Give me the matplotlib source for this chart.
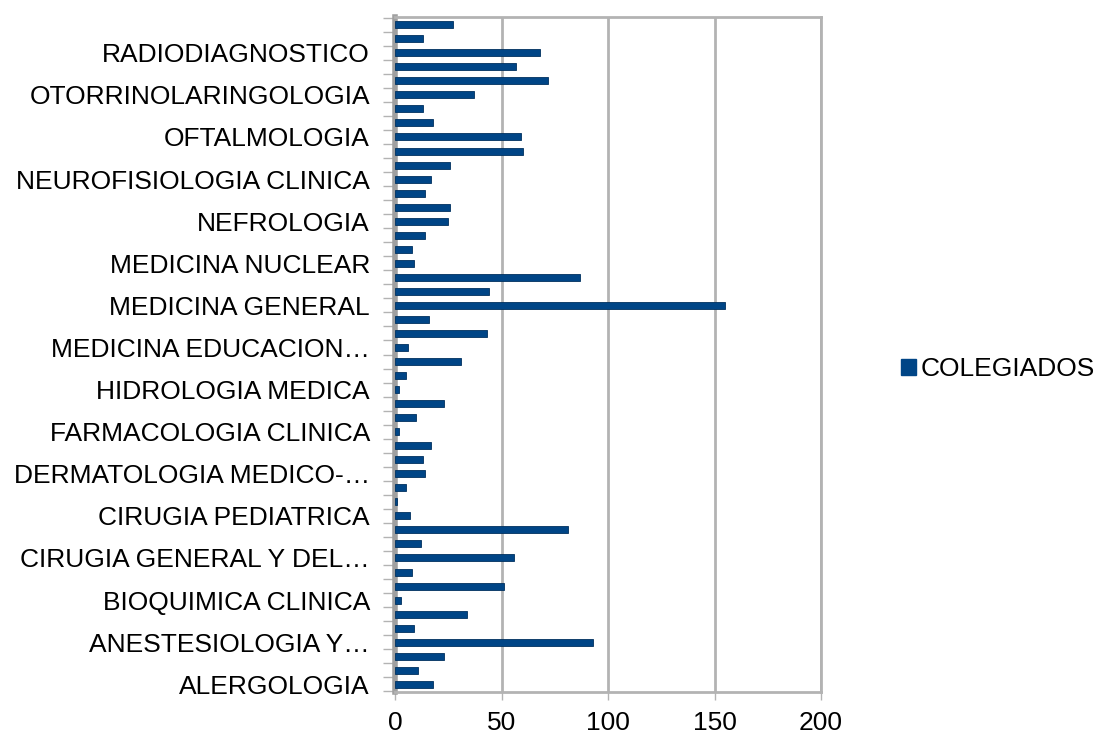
import numpy as np
import matplotlib as mpl
mpl.use('Agg')
import matplotlib.pyplot as plt
from matplotlib.patches import Patch

plt.rcParams['font.family'] = ['Liberation Sans', 'DejaVu Sans']

# especialidades, de abajo (indice 0) hacia arriba
especialidades = [
    'ALERGOLOGIA', 'ANALISIS CLINICOS', 'ANATOMIA PATOLOGICA',
    'ANESTESIOLOGIA Y REANIMACION', 'ANGIOLOGIA Y CIRUGIA VASCULAR', 'APARATO DIGESTIVO',
    'BIOQUIMICA CLINICA', 'CARDIOLOGIA', 'CIRUGIA CARDIOVASCULAR',
    'CIRUGIA GENERAL Y DEL APARATO DIGESTIVO', 'CIRUGIA ORAL Y MAXILOFACIAL',
    'CIRUGIA ORTOPEDICA Y TRAUMATOLOGIA', 'CIRUGIA PEDIATRICA', 'CIRUGIA PLASTICA',
    'CIRUGIA TORACICA', 'DERMATOLOGIA MEDICO-QUIRURGICA', 'ENDOCRINOLOGIA Y NUTRICION',
    'ESTOMATOLOGIA', 'FARMACOLOGIA CLINICA', 'GERIATRIA', 'HEMATOLOGIA Y HEMOTERAPIA',
    'HIDROLOGIA MEDICA', 'INMUNOLOGIA', 'MEDICINA DEL TRABAJO',
    'MEDICINA EDUCACION FISICA Y DEPORTE', 'MEDICINA FAMILIAR Y COMUNITARIA',
    'MEDICINA FISICA Y REHABILITACION', 'MEDICINA GENERAL', 'MEDICINA INTENSIVA',
    'MEDICINA INTERNA', 'MEDICINA NUCLEAR', 'MEDICINA PREVENTIVA Y SALUD PUBLICA',
    'MICROBIOLOGIA Y PARASITOLOGIA', 'NEFROLOGIA', 'NEUMOLOGIA', 'NEUROCIRUGIA',
    'NEUROFISIOLOGIA CLINICA', 'NEUROLOGIA', 'OBSTETRICIA Y GINECOLOGIA', 'OFTALMOLOGIA',
    'ONCOLOGIA MEDICA', 'ONCOLOGIA RADIOTERAPICA', 'OTORRINOLARINGOLOGIA', 'PEDIATRIA',
    'PSIQUIATRIA', 'RADIODIAGNOSTICO', 'REUMATOLOGIA', 'UROLOGIA',
]
colegiados = [
    18, 11, 23, 93, 9, 34, 3, 51, 8, 56, 12, 81, 7, 1, 5, 14, 13, 17, 2, 10, 23, 2, 5, 31,
    6, 43, 16, 155, 44, 87, 9, 8, 14, 25, 26, 14, 17, 26, 60, 59, 18, 13, 37, 72, 57, 68, 13, 27,
]
# etiquetas visibles (una de cada tres), recortadas como en el original
etiquetas = [
    'ALERGOLOGIA', 'ANESTESIOLOGIA Y…', 'BIOQUIMICA CLINICA', 'CIRUGIA GENERAL Y DEL…',
    'CIRUGIA PEDIATRICA', 'DERMATOLOGIA MEDICO-…', 'FARMACOLOGIA CLINICA',
    'HIDROLOGIA MEDICA', 'MEDICINA EDUCACION…', 'MEDICINA GENERAL', 'MEDICINA NUCLEAR',
    'NEFROLOGIA', 'NEUROFISIOLOGIA CLINICA', 'OFTALMOLOGIA', 'OTORRINOLARINGOLOGIA',
    'RADIODIAGNOSTICO',
]
xticks = [0, 50, 100, 150, 200]

azul = '#004586'
gris = '#b3b3b3'

fig = plt.figure(figsize=(10.99, 7.40), dpi=100)
ax = fig.add_axes([395 / 1099, 1 - 692 / 740, (821 - 395) / 1099, (692 - 17) / 740])

y = np.arange(len(especialidades))
ax.barh(y, colegiados, height=0.5, color=azul, edgecolor='#00305e', linewidth=0.6, zorder=3)

ax.set_xlim(0, 200)
ax.set_ylim(-0.55, len(especialidades) - 0.45)
ax.set_xticks(xticks)
ax.set_xticklabels([str(v) for v in xticks], fontsize=19)
ax.xaxis.grid(True, color=gris, linewidth=2, zorder=0)

ax.set_yticks(y[::3])
ax.set_yticklabels(etiquetas, fontsize=19)
ax.set_yticks(np.arange(len(especialidades) + 1) - 0.5, minor=True)
ax.tick_params(axis='y', which='major', length=0, pad=18)
ax.tick_params(axis='y', which='minor', length=9, color=gris, width=1)
ax.tick_params(axis='x', length=6, color=gris, width=1, pad=8)

for s in ['top', 'right', 'bottom']:
    ax.spines[s].set_color(gris)
    ax.spines[s].set_linewidth(2)
ax.spines['left'].set_color('#a0a0a0')
ax.spines['left'].set_linewidth(4)

fig.legend(handles=[Patch(facecolor=azul, edgecolor=azul)], labels=['COLEGIADOS'],
           loc='center left', bbox_to_anchor=(901 / 1099, 1 - 369 / 740),
           frameon=False, fontsize=19, handlelength=0.55, handleheight=0.55,
           handletextpad=0.2, borderpad=0, borderaxespad=0)

plt.savefig('out.png', dpi=100)
plt.close()
